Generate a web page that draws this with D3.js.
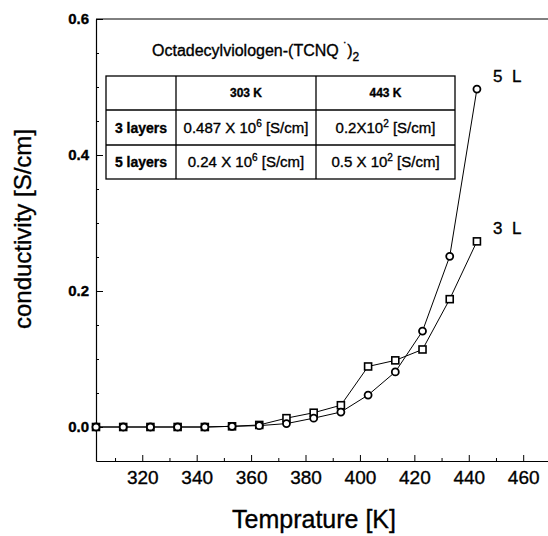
<!DOCTYPE html>
<html><head><meta charset="utf-8">
<script src="https://cdn.jsdelivr.net/npm/d3@7"></script>
<style>
html,body{margin:0;padding:0;background:#fff;}
svg text{font-family:"Liberation Sans",Arial,sans-serif;fill:#000;stroke:#000;stroke-width:0.35px;}
</style></head>
<body><svg id="c" width="548" height="536"></svg>
<script>
// ---- data ----
const temps = [303,313,323,333,343,353,363,373,383,393,403,413,423,433,443];
const layers5 = [0,0,0,0,0,0.001,0.002,0.005,0.013,0.022,0.047,0.081,0.141,0.251,0.497];
const layers3 = [0,0,0,0,0,0.001,0.003,0.013,0.021,0.032,0.089,0.098,0.114,0.188,0.273];
const xTicks = [320,340,360,380,400,420,440,460];
const xMinor = [310,330,350,370,390,410,430,450];
const yTicks = [0.0,0.2,0.4,0.6];
const yMinor = [0.05,0.1,0.15,0.25,0.3,0.35,0.45,0.5,0.55];
const tableHead = ["", "303 K", "443 K"];
const tableRows = [
  ["3 layers", ["0.487 X 10","6"," [S/cm]"], ["0.2X10","2"," [S/cm]"]],
  ["5 layers", ["0.24 X 10","6"," [S/cm]"], ["0.5 X 10","2"," [S/cm]"]]
];
const seriesLabels = ["5 L","3 L"];

const svg = d3.select("#c");
const x = d3.scaleLinear().domain([303,470]).range([96,550.4]);
const y = d3.scaleLinear().domain([-0.05,0.6]).range([461,19]);

// frame top
svg.append("line").attr("x1",96).attr("x2",548).attr("y1",19).attr("y2",19).attr("stroke","#000").attr("stroke-width",1);

// x axis
const gx = svg.append("g").attr("transform","translate(0,461)");
gx.call(d3.axisBottom(x).tickValues(xTicks).tickFormat(d3.format("d")).tickSizeInner(-6).tickSizeOuter(0).tickPadding(10));
gx.selectAll("text").attr("font-size",19).attr("font-family",null);
gx.select(".domain").attr("stroke-width",1.2);
const gxm = svg.append("g").attr("transform","translate(0,461)");
gxm.call(d3.axisBottom(x).tickValues(xMinor).tickFormat("").tickSizeInner(-3).tickSizeOuter(0));
gxm.select(".domain").remove();

// y axis
const gy = svg.append("g").attr("transform","translate(96,0)");
gy.call(d3.axisLeft(y).tickValues(yTicks).tickFormat(d3.format(".1f")).tickSizeInner(-7).tickSizeOuter(0).tickPadding(7));
gy.selectAll("text").attr("font-size",15).attr("font-weight","bold").attr("font-family",null);
gy.select(".domain").attr("stroke-width",1.2);
const gym = svg.append("g").attr("transform","translate(96,0)");
gym.call(d3.axisLeft(y).tickValues(yMinor).tickFormat("").tickSizeInner(-3).tickSizeOuter(0));
gym.select(".domain").remove();

// axis titles
svg.append("text").attr("x",314).attr("y",528).attr("text-anchor","middle").attr("font-size",25).text("Temprature [K]");
svg.append("text").attr("transform","translate(31,229) rotate(-90)").attr("text-anchor","middle").attr("font-size",24).text("conductivity [S/cm]");

// lines
const line = d3.line().x((d,i)=>x(temps[i])).y(d=>y(d));
svg.append("path").datum(layers3).attr("d",line).attr("fill","none").attr("stroke","#000").attr("stroke-width",1);
svg.append("path").datum(layers5).attr("d",line).attr("fill","none").attr("stroke","#000").attr("stroke-width",1);

// markers
svg.append("g").selectAll("rect").data(layers3).join("rect")
  .attr("x",(d,i)=>x(temps[i])-3.5).attr("y",d=>y(d)-3.5).attr("width",7).attr("height",7)
  .attr("fill","#fff").attr("stroke","#000").attr("stroke-width",1.6);
svg.append("g").selectAll("circle").data(layers5).join("circle")
  .attr("cx",(d,i)=>x(temps[i])).attr("cy",d=>y(d)).attr("r",3.5)
  .attr("fill","#fff").attr("stroke","#000").attr("stroke-width",1.8);

// series labels
svg.append("text").attr("x",493).attr("y",82).attr("font-size",17).attr("xml:space","preserve").text(seriesLabels[0].replace(" ","  "));
svg.append("text").attr("x",493).attr("y",234).attr("font-size",17).attr("xml:space","preserve").text(seriesLabels[1].replace(" ","  "));

// title
const t = svg.append("text").attr("x",152).attr("y",56).attr("font-size",16);
t.append("tspan").text("Octadecylviologen-(TCNQ ");
t.append("tspan").attr("dy",-5).attr("font-size",12).text("˙");
t.append("tspan").attr("dy",5).text(")");
t.append("tspan").attr("dy",5).attr("font-size",12).text("2");

// table
const colX = [106,176,316,455];
const rowY = [76,110,145,179];
const tg = svg.append("g");
tg.append("rect").attr("x",colX[0]).attr("y",rowY[0]).attr("width",colX[3]-colX[0]).attr("height",rowY[3]-rowY[0]).attr("fill","#fff").attr("stroke","#000").attr("stroke-width",1.3);
[1,2].forEach(i=>tg.append("line").attr("x1",colX[i]).attr("x2",colX[i]).attr("y1",rowY[0]).attr("y2",rowY[3]).attr("stroke","#000").attr("stroke-width",1.3));
[1,2].forEach(i=>tg.append("line").attr("x1",colX[0]).attr("x2",colX[3]).attr("y1",rowY[i]).attr("y2",rowY[i]).attr("stroke","#000").attr("stroke-width",1.3));
tableHead.forEach((h,j)=>{ if(h) tg.append("text").attr("x",(colX[j]+colX[j+1])/2).attr("y",(rowY[0]+rowY[1])/2+4).attr("text-anchor","middle").attr("font-size",12).attr("font-weight","bold").text(h); });
tableRows.forEach((r,i)=>{
  const cy = (rowY[i+1]+rowY[i+2])/2+5;
  tg.append("text").attr("x",(colX[0]+colX[1])/2).attr("y",cy).attr("text-anchor","middle").attr("font-size",14).attr("font-weight","bold").text(r[0]);
  [1,2].forEach(j=>{
    const tt = tg.append("text").attr("x",(colX[j]+colX[j+1])/2).attr("y",cy).attr("text-anchor","middle").attr("font-size",15);
    tt.append("tspan").text(r[j][0]);
    tt.append("tspan").attr("dy",-6).attr("font-size",10).text(r[j][1]);
    tt.append("tspan").attr("dy",6).text(r[j][2]);
  });
});
</script></body></html>
